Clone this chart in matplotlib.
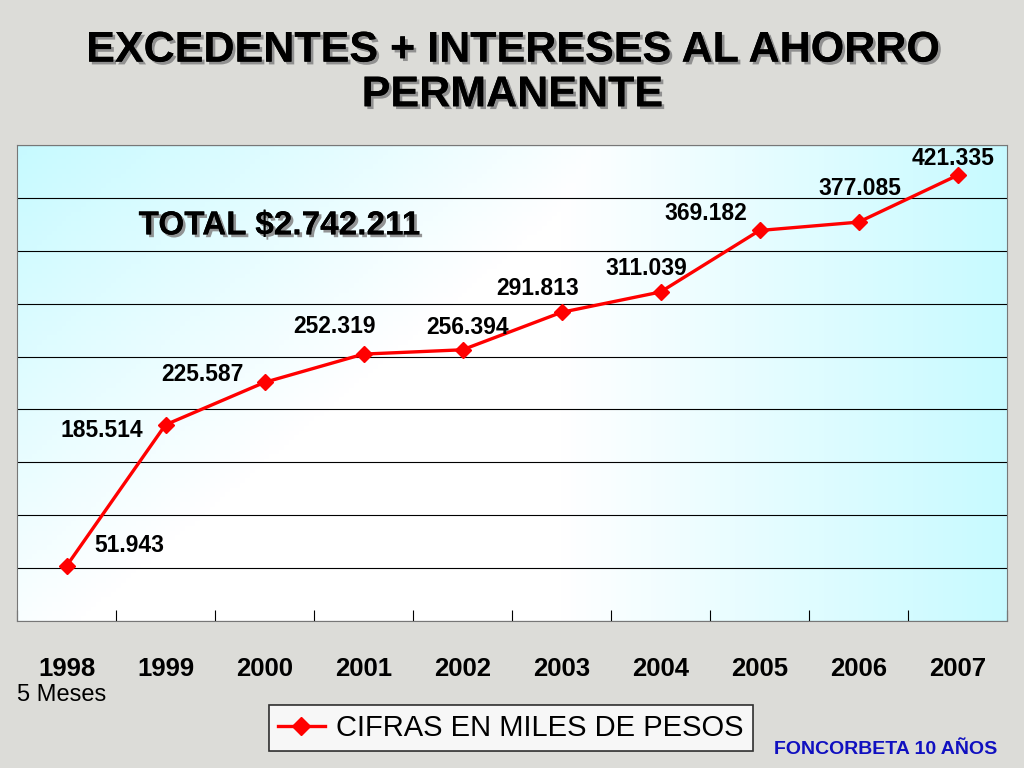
import matplotlib
matplotlib.use("Agg")
import matplotlib.pyplot as plt
import matplotlib.patheffects as pe
import numpy as np
from matplotlib.lines import Line2D

years = ["1998", "1999", "2000", "2001", "2002", "2003", "2004", "2005", "2006", "2007"]
values = [51.943, 185.514, 225.587, 252.319, 256.394, 291.813, 311.039, 369.182, 377.085, 421.335]
labels = ["51.943", "185.514", "225.587", "252.319", "256.394", "291.813", "311.039", "369.182", "377.085", "421.335"]
# label offsets in points (dx, dy)
offsets = [(45, 15), (-46, -4), (-45, 6), (-21, 20), (4, 16), (-17, 17), (-10, 17), (-39, 12), (1, 24), (-3, 12)]

plt.rcParams['font.family'] = ['Liberation Sans', 'DejaVu Sans']
fig = plt.figure(figsize=(10.24, 7.68), dpi=100)
fig.patch.set_facecolor("#dcdcd8")

ax = fig.add_axes([17/1024, 147/768, 990/1024, 476/768])
x = np.arange(len(years))
ax.set_xlim(-0.5, len(years) - 0.5)
ax.set_ylim(0, 450)

# gradient background of plot area
gx = np.linspace(0, 1, 200)
gy = np.linspace(0, 1, 100)
GX, GY = np.meshgrid(gx, gy)
t = np.clip(np.maximum(1 - (GX * 1.6 + (1 - GY) * 0.9), (GX - 0.55) * 2.2), 0, 1)
c0 = np.array([1, 1, 1]); c1 = np.array([0.78, 0.98, 1.0])
img = c0 + (c1 - c0) * t[..., None]
ax.imshow(img, extent=[-0.5, len(years) - 0.5, 0, 450], aspect="auto", origin="lower", zorder=0)

ax.set_yticks(np.arange(0, 451, 50))
ax.yaxis.grid(True, color="black", linewidth=0.8)
ax.set_yticklabels([])
ax.tick_params(axis="y", length=0)
ax.set_xticks(np.arange(-0.5, len(years)), minor=False)
ax.set_xticklabels([])
ax.tick_params(axis="x", length=8, direction="in", color="black")
for i, y in enumerate(years):
    ax.text(i, -0.1, y, transform=ax.get_xaxis_transform(), ha="center", va="center",
            fontsize=18.5, fontweight="bold")
for s in ax.spines.values():
    s.set_color("#777777")

ax.plot(x, values, color="red", linewidth=2.4, marker="D", markersize=8, zorder=3, clip_on=False)
for i, (v, lab) in enumerate(zip(values, labels)):
    ax.annotate(lab, (i, v), xytext=offsets[i], textcoords="offset points",
                ha="center", va="center", fontsize=16.5, fontweight="bold", zorder=4)

shadow = [pe.withSimplePatchShadow(offset=(2, -2), shadow_rgbFace="#888888", alpha=0.9), pe.Normal()]
ax.text(0.265, 0.83, "TOTAL $2.742.211", transform=ax.transAxes, ha="center",
        va="center", fontsize=24, fontweight="bold", path_effects=shadow)

fig.text(0.5, 0.905, "EXCEDENTES + INTERESES AL AHORRO\nPERMANENTE", ha="center", va="center",
         fontsize=31, fontweight="bold", linespacing=1.15, path_effects=shadow)

fig.text(62/1024, 1 - 695/768, "5 Meses", ha="center", va="center", fontsize=17)
fig.text(886/1024, 1 - 750/768, "FONCORBETA 10 AÑOS", ha="center", va="center",
         fontsize=14, fontweight="bold", color="#1010c0")

handle = Line2D([], [], color="red", linewidth=2.4, marker="D", markersize=9)
leg = fig.legend([handle], ["CIFRAS EN MILES DE PESOS"], loc="center", bbox_to_anchor=(511/1024, 1 - 728/768),
                 fontsize=21, frameon=True, fancybox=False, edgecolor="black", handlelength=1.6,
                 handletextpad=0.4, borderpad=0.3)
leg.get_frame().set_linewidth(1.2)

fig.savefig("out.png", dpi=100, facecolor=fig.get_facecolor())
